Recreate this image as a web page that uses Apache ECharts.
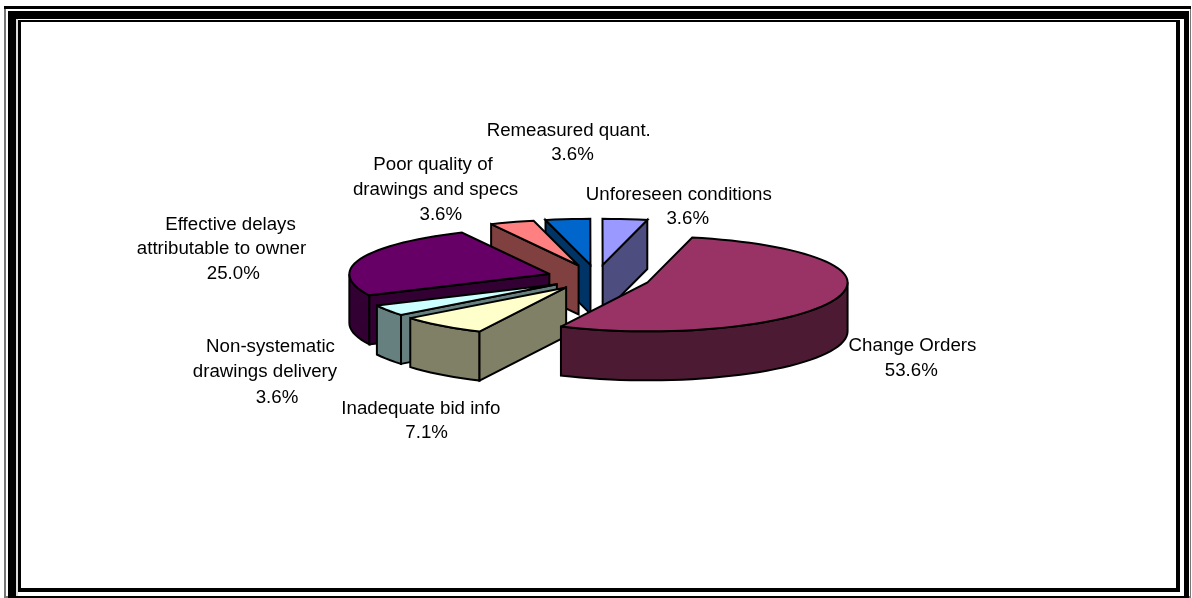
<!DOCTYPE html>
<html>
<head>
<meta charset="utf-8">
<style>html,body{margin:0;padding:0;background:#fff}#c{width:1192px;height:598px}</style>
<script src="https://cdn.jsdelivr.net/npm/echarts@6/dist/echarts.min.js"></script>
</head>
<body>
<div id="c"></div>
<script>
// Data, clockwise from the first slice
var categories = ['Change Orders', 'Inadequate bid info', 'Non-systematic\ndrawings delivery',
  'Effective delays\nattributable to owner', 'Poor quality of\ndrawings and specs',
  'Remeasured quant.', 'Unforeseen conditions'];
var values = [53.6, 7.1, 3.6, 25.0, 3.6, 3.6, 3.6];
var topColors = ['#993366', '#FFFFCC', '#CCFFFF', '#660066', '#FF8080', '#0066CC', '#9999FF'];
var wallColors = ['#4D1A33', '#808066', '#668080', '#330033', '#804040', '#003366', '#4D4D80'];
var explode = [0.27, 0.245, 0.235, 0.25, 0.27, 0.27, 0.27];
// centre of each label line
var labelLines = [
  [[912.5, 346], [911.3, 371]],
  [[420.8, 409], [426.6, 433]],
  [[270.5, 347], [265, 372], [277, 398]],
  [[230.5, 225], [221.5, 249], [233.3, 274]],
  [[433, 165], [435.5, 190], [440.8, 215]],
  [[568.7, 131], [572.5, 155]],
  [[678.8, 195], [687.7, 219]]
];
// frame bands: x0, y0, x1, y1, colour (painted in order)
var frameBands = [
  [4, 6, 1191, 598, '#777'], [4, 6, 1191, 9, '#000'], [6, 9, 1190, 596, '#fff'],
  [8, 11, 1189, 598, '#000'], [16, 19, 1184, 596, '#fff'], [16, 19, 18, 596, '#ddd'],
  [18, 20, 1180, 592, '#000'], [21, 22, 1176, 588, '#fff']
];

// Layout of the tilted pie
var CX = 596.6, CY = 278, RX = 200, RY_BACK = 46, RY_FRONT = 49, DEPTH = 49, START = 12.9;
var total = values.reduce(function (a, b) { return a + b; }, 0);

function sliceAngles(i) {
  var a = START;
  for (var k = 0; k < i; k++) a += values[k] / total * 360;
  return [a, a + values[i] / total * 360];
}
function rim(apex, deg) {
  var r = deg * Math.PI / 180, c = Math.cos(r);
  return [apex[0] + RX * Math.sin(r), apex[1] - (c > 0 ? RY_BACK : RY_FRONT) * c];
}
function down(p) { return [p[0], p[1] + DEPTH]; }
function arc(apex, from, to) {
  var pts = [], n = Math.max(2, Math.ceil((to - from) / 3));
  for (var k = 0; k <= n; k++) pts.push(rim(apex, from + (to - from) * k / n));
  return pts;
}
var stroke = { stroke: '#000', lineWidth: 2, lineJoin: 'miter', miterLimit: 3 };
function poly(points, fill) {
  return { type: 'polygon', shape: { points: points }, style: Object.assign({ fill: fill }, stroke) };
}
function renderSlice(params, api) {
  var i = api.value(0);
  var ang = sliceAngles(i), a0 = ang[0], a1 = ang[1], mid = (a0 + a1) / 2 * Math.PI / 180;
  var e = explode[i];
  var apex = [CX + e * RX * Math.sin(mid), CY - e * RY_FRONT * Math.cos(mid)];
  var kids = [];
  // front-facing part of the outer wall
  var f0 = Math.max(a0, 90), f1 = Math.min(a1, 270);
  if (f1 > f0) {
    var top = arc(apex, f0, f1);
    kids.push(poly(top.concat(top.map(down).reverse()), wallColors[i]));
  }
  // visible cut faces
  [[a0, -1], [a1, 1]].forEach(function (edge) {
    var s = Math.sin(edge[0] * Math.PI / 180) * edge[1];
    if (s > 0.001) {
      var p = rim(apex, edge[0]);
      kids.push(poly([apex, p, down(p), down(apex)], wallColors[i]));
    }
  });
  // top face
  kids.push(poly([apex].concat(arc(apex, a0, a1)), topColors[i]));
  // label, one text per line
  var lines = categories[i].split('\n').concat(values[i].toFixed(1) + '%');
  lines.forEach(function (line, n) {
    kids.push({
      type: 'text',
      style: {
        x: labelLines[i][n][0], y: labelLines[i][n][1], text: line,
        align: 'center', verticalAlign: 'middle',
        font: '18.7px "Liberation Sans", Arial, sans-serif', fill: '#000'
      }
    });
  });
  return { type: 'group', children: kids };
}
var chart = echarts.init(document.getElementById('c'), null, { renderer: 'canvas' });
chart.setOption({
  animation: false,
  backgroundColor: '#fff',
  graphic: frameBands.map(function (b) {
    return { type: 'rect', silent: true, z: -1,
      shape: { x: b[0], y: b[1], width: b[2] - b[0], height: b[3] - b[1] },
      style: { fill: b[4] } };
  }),
  series: [{
    type: 'custom',
    coordinateSystem: 'none',
    renderItem: renderSlice,
    z: 5,
    data: categories.map(function (c, i) { return [categories.length - 1 - i]; }),
    encode: {}
  }]
});
</script>
</body>
</html>
